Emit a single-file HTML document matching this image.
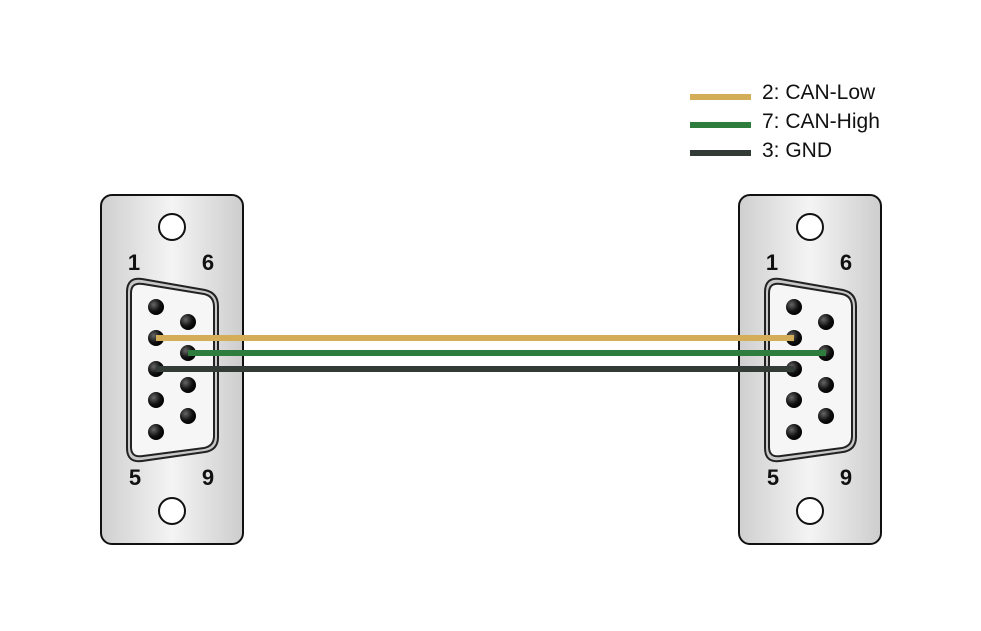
<!DOCTYPE html>
<html><head><meta charset="utf-8"><style>
html,body{margin:0;padding:0;background:#fff;}
svg{display:block;}
</style></head><body>
<svg width="981" height="631" viewBox="0 0 981 631" xmlns="http://www.w3.org/2000/svg">
<defs>
<linearGradient id="pg" x1="0" x2="1" y1="0" y2="0">
<stop offset="0" stop-color="#cfcfcf"/><stop offset="0.5" stop-color="#f4f4f4"/><stop offset="1" stop-color="#cdcdcd"/>
</linearGradient>
<radialGradient id="pin" cx="0.35" cy="0.35" r="0.7">
<stop offset="0" stop-color="#666"/><stop offset="0.6" stop-color="#111"/><stop offset="1" stop-color="#000"/>
</radialGradient>
<g id="conn">
<rect x="101" y="195" width="142" height="349" rx="11" fill="url(#pg)" stroke="#111" stroke-width="2"/>
<circle cx="172" cy="227" r="13" fill="#fff" stroke="#111" stroke-width="2"/>
<circle cx="172" cy="511" r="13" fill="#fff" stroke="#111" stroke-width="2"/>
<path d="M127,292 Q127,277 142,279 L205,290 Q218,293 218,306 L218,437 Q218,450 205,452 L142,461 Q127,463 127,448 Z" fill="#c8c8c8" stroke="#222" stroke-width="2"/>
<path d="M131,293 Q131,282 143,284 L204,294 Q214,296 214,307 L214,436 Q214,446 204,448 L143,456 Q131,458 131,447 Z" fill="#f6f6f6" stroke="#222" stroke-width="2"/>
<g fill="url(#pin)">
<circle cx="156" cy="307" r="8"/><circle cx="156" cy="338" r="8"/><circle cx="156" cy="369" r="8"/><circle cx="156" cy="400" r="8"/><circle cx="156" cy="432" r="8"/>
<circle cx="188" cy="322" r="8"/><circle cx="188" cy="353" r="8"/><circle cx="188" cy="385" r="8"/><circle cx="188" cy="416" r="8"/>
</g>
<g font-family="Liberation Sans, sans-serif" font-weight="bold" font-size="22" fill="#111" text-anchor="middle">
<text x="134" y="270">1</text><text x="208" y="270">6</text>
<text x="135" y="485">5</text><text x="208" y="485">9</text>
</g>
</g>
</defs>
<use href="#conn"/>
<use href="#conn" transform="translate(638,0)"/>
<g stroke-width="6" stroke-linecap="butt">
<line x1="156" y1="338" x2="794" y2="338" stroke="#d4ad58"/>
<line x1="188" y1="353" x2="826" y2="353" stroke="#2e7d3c"/>
<line x1="156" y1="369" x2="794" y2="369" stroke="#333b37"/>
</g>
<g stroke-width="6">
<line x1="690" y1="97" x2="751" y2="97" stroke="#d4ad58"/>
<line x1="690" y1="125" x2="751" y2="125" stroke="#2e7d3c"/>
<line x1="690" y1="153" x2="751" y2="153" stroke="#333b37"/>
</g>
<g font-family="Liberation Sans, sans-serif" font-size="21" fill="#111">
<text x="762" y="99">2: CAN-Low</text>
<text x="762" y="128">7: CAN-High</text>
<text x="762" y="157">3: GND</text>
</g>
</svg>
</body></html>
